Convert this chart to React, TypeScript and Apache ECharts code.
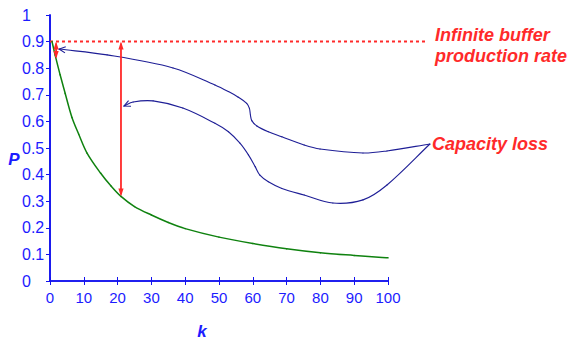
import React, { useEffect, useRef } from "react";
import * as echarts from "echarts";

// Green curve: production rate P vs buffer size k
const kValues = [0.6, 1.5, 3, 4.5, 6.5, 8.5, 11, 15, 18, 21, 25, 30, 35, 40, 50, 60, 70, 80, 90, 100];
const pValues = [0.9, 0.85, 0.775, 0.705, 0.615, 0.552, 0.48, 0.405, 0.358, 0.318, 0.28, 0.248, 0.22, 0.197, 0.165, 0.141, 0.121, 0.106, 0.096, 0.087];

// Infinite buffer production rate reference
const infiniteRate = 0.9;
const infiniteLineEnd = 111.5;

// Capacity loss double arrows: [k, top P, bottom P]
const lossArrows = [
  [21, 0.9, 0.318],
  [1.8, 0.9, 0.835],
];

// Annotation curves from "Capacity loss" label (k, P)
const upperCurveK = [2.7, 16.9, 36.4, 48.8, 52.8, 55.7, 58.2, 59.0, 59.3, 59.7, 61.2, 64.6, 68.6, 75.2, 79.9, 92.6, 99.7, 112.4];
const upperCurveP = [0.872, 0.85, 0.801, 0.737, 0.712, 0.691, 0.668, 0.649, 0.624, 0.603, 0.583, 0.561, 0.542, 0.511, 0.496, 0.481, 0.489, 0.515];
const lowerCurveK = [21.9, 24.6, 30.5, 39.3, 48.8, 52.8, 56.2, 58.7, 60.7, 62.1, 64.6, 68.6, 75.2, 83.7, 92.6, 99.7, 112.4];
const lowerCurveP = [0.658, 0.673, 0.677, 0.65, 0.593, 0.561, 0.518, 0.474, 0.43, 0.398, 0.373, 0.348, 0.323, 0.293, 0.305, 0.361, 0.515];

// Arrowheads of annotation curves: [tipK, tipP, towardK, towardP]
const annotationHeads = [
  [2.7, 0.872, 9, 0.862],
  [21.9, 0.658, 24.6, 0.673],
];

const xTicks = { min: 0, max: 100, interval: 10 };
const yTicks = { min: 0, max: 1, interval: 0.1 };

const BLUE_AXIS = "#1212ee";
const BLUE_TEXT = "#1c1cff";
const RED = "#ff2a2a";
const NAVY = "#1e1e96";
const GREEN = "#0f820f";
const FONT = "'Liberation Sans', Arial, Helvetica, sans-serif";

const curves = [
  { k: kValues, p: pValues, color: GREEN, width: 1.5 },
  { k: upperCurveK, p: upperCurveP, color: NAVY, width: 1.1 },
  { k: lowerCurveK, p: lowerCurveP, color: NAVY, width: 1.1 },
];

// Smooth path through pixel points using chord-length tangents (no overshoot)
function smoothSegments(pts: number[][], color: string, width: number) {
  const n = pts.length;
  const tan: number[][] = pts.map((_p, i) => {
    const a = pts[Math.max(0, i - 1)];
    const b = pts[Math.min(n - 1, i + 1)];
    const dx = b[0] - a[0];
    const dy = b[1] - a[1];
    const l = Math.hypot(dx, dy) || 1;
    return [dx / l, dy / l];
  });
  const children: any[] = [];
  for (let i = 0; i < n - 1; i++) {
    const p0 = pts[i];
    const p1 = pts[i + 1];
    const d = Math.hypot(p1[0] - p0[0], p1[1] - p0[1]) / 3;
    children.push({
      type: "bezierCurve",
      shape: {
        x1: p0[0],
        y1: p0[1],
        x2: p1[0],
        y2: p1[1],
        cpx1: p0[0] + tan[i][0] * d,
        cpy1: p0[1] + tan[i][1] * d,
        cpx2: p1[0] - tan[i + 1][0] * d,
        cpy2: p1[1] - tan[i + 1][1] * d,
      },
      style: { stroke: color, fill: null, lineWidth: width, lineCap: "round" },
    });
  }
  return children;
}

export default function App() {
  const ref = useRef<HTMLDivElement>(null);

  useEffect(() => {
    if (!ref.current) return;
    const chart = echarts.init(ref.current, undefined, { renderer: "svg" });

    const axisLine = { show: true, lineStyle: { color: BLUE_AXIS, width: 1.6 } };
    const insideTick = { show: true, inside: true, length: 4, lineStyle: { color: BLUE_AXIS, width: 1 } };

    const option: any = {
      animation: false,
      backgroundColor: "#ffffff",
      grid: { left: 50, right: 182, top: 15, bottom: 60, containLabel: false },
      xAxis: [
        {
          type: "value",
          ...xTicks,
          position: "bottom",
          axisLine,
          axisTick: insideTick,
          splitLine: { show: false },
          axisLabel: { color: BLUE_TEXT, fontSize: 15, fontFamily: FONT, margin: 9 },
        },
        {
          type: "value",
          ...xTicks,
          position: "top",
          axisLine,
          axisTick: insideTick,
          splitLine: { show: false },
          axisLabel: { show: false },
        },
      ],
      yAxis: [
        {
          type: "value",
          ...yTicks,
          position: "left",
          axisLine,
          axisTick: { show: false },
          splitLine: { show: false },
          axisLabel: {
            color: BLUE_TEXT,
            fontSize: 16,
            fontFamily: FONT,
            align: "left",
            margin: 28,
            formatter: (v: number) => String(Math.round(v * 10) / 10),
          },
        },
        {
          type: "value",
          ...yTicks,
          position: "right",
          axisLine,
          axisTick: insideTick,
          splitLine: { show: false },
          axisLabel: { show: false },
        },
      ],
      series: [
        {
          type: "custom",
          name: "infinite",
          data: [[0, infiniteRate, infiniteLineEnd]],
          clip: false,
          z: 3,
          renderItem: (_p: any, api: any) => {
            const a = api.coord([api.value(0), api.value(1)]);
            const b = api.coord([api.value(2), api.value(1)]);
            return {
              type: "line",
              shape: { x1: a[0], y1: a[1], x2: b[0], y2: b[1] },
              style: { stroke: RED, lineWidth: 2, lineDash: [3, 3] },
            };
          },
        },
        {
          type: "custom",
          name: "curves",
          data: curves.map((_c, i) => [i]),
          clip: false,
          z: 5,
          renderItem: (params: any, api: any) => {
            const c = curves[params.dataIndex];
            const pts = c.k.map((k: number, i: number) => api.coord([k, c.p[i]]));
            return { type: "group", children: smoothSegments(pts, c.color, c.width) };
          },
        },
        {
          type: "custom",
          name: "heads",
          data: annotationHeads,
          clip: false,
          z: 6,
          renderItem: (_p: any, api: any) => {
            const tip = api.coord([api.value(0), api.value(1)]);
            const to = api.coord([api.value(2), api.value(3)]);
            const ang = Math.atan2(to[1] - tip[1], to[0] - tip[0]);
            const L = 7;
            const a = 0.45;
            const p1 = [tip[0] + L * Math.cos(ang + a), tip[1] + L * Math.sin(ang + a)];
            const p2 = [tip[0] + L * Math.cos(ang - a), tip[1] + L * Math.sin(ang - a)];
            return {
              type: "polyline",
              shape: { points: [p1, tip, p2] },
              style: { stroke: NAVY, fill: null, lineWidth: 1.1 },
            };
          },
        },
        {
          type: "custom",
          name: "loss",
          data: lossArrows,
          clip: false,
          z: 7,
          renderItem: (_p: any, api: any) => {
            const top = api.coord([api.value(0), api.value(1)]);
            const bot = api.coord([api.value(0), api.value(2)]);
            const len = Math.min(8, (bot[1] - top[1]) / 2.2);
            const hw = 2.6;
            return {
              type: "group",
              children: [
                {
                  type: "line",
                  shape: { x1: top[0], y1: top[1] + 2, x2: bot[0], y2: bot[1] - 2 },
                  style: { stroke: RED, lineWidth: 1.8 },
                },
                {
                  type: "polygon",
                  shape: { points: [[top[0], top[1]], [top[0] - hw, top[1] + len], [top[0] + hw, top[1] + len]] },
                  style: { fill: RED },
                },
                {
                  type: "polygon",
                  shape: { points: [[bot[0], bot[1]], [bot[0] - hw, bot[1] - len], [bot[0] + hw, bot[1] - len]] },
                  style: { fill: RED },
                },
              ],
            };
          },
        },
      ],
      graphic: [
        {
          type: "text",
          x: 435,
          y: 35,
          style: { text: "Infinite buffer", fill: RED, font: `italic bold 18px ${FONT}`, verticalAlign: "middle" },
        },
        {
          type: "text",
          x: 435,
          y: 56,
          style: { text: "production rate", fill: RED, font: `italic bold 18px ${FONT}`, verticalAlign: "middle" },
        },
        {
          type: "text",
          x: 432,
          y: 144,
          style: { text: "Capacity loss", fill: RED, font: `italic bold 18px ${FONT}`, verticalAlign: "middle" },
        },
        {
          type: "text",
          x: 14,
          y: 159,
          style: { text: "P", fill: BLUE_TEXT, font: `italic bold 17px ${FONT}`, align: "center", verticalAlign: "middle" },
        },
        {
          type: "text",
          x: 202,
          y: 331,
          style: { text: "k", fill: BLUE_TEXT, font: `italic bold 17px ${FONT}`, align: "center", verticalAlign: "middle" },
        },
      ],
    };

    chart.setOption(option);
    return () => chart.dispose();
  }, []);

  return <div ref={ref} style={{ width: 570, height: 341, position: "absolute", left: 0, top: 0 }} />;
}
